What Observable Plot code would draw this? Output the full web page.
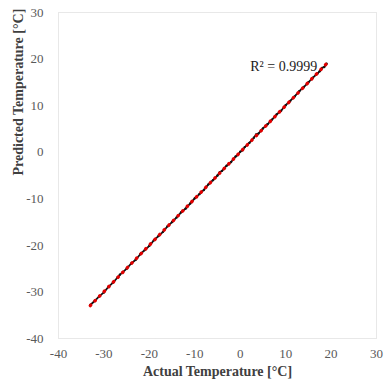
<!DOCTYPE html>
<html>
<head>
<meta charset="utf-8">
<script src="https://cdn.jsdelivr.net/npm/d3@7"></script>
<script src="https://cdn.jsdelivr.net/npm/@observablehq/plot@0.6"></script>
<style>
  html, body { margin: 0; padding: 0; background: #fff; }
  svg text { font-family: 'Liberation Serif', 'Times New Roman', serif; }
</style>
</head>
<body>
<div id="chart"></div>
<script>
const actual = [-33, -32, -31, -30, -29, -28, -27, -26.5, -26, -25, -24, -23, -22, -21, -20, -19, -18, -17, -16, -15, -14, -13, -12, -11, -10, -9, -8, -7, -6, -5, -4.5, -4, -3, -2, -1, -0.5, 0, 0.5, 1, 2, 3, 3.5, 4, 5, 6, 7, 8, 9, 10, 11, 12, 13, 14, 15, 16, 17, 17.5, 18, 18.5, 19];
const predicted = [-32.8, -31.9, -30.9, -30.1, -28.9, -28.0, -26.9, -26.3, -25.9, -25.0, -23.9, -23.1, -21.9, -21.0, -20.1, -18.9, -18.0, -17.1, -15.9, -15.0, -14.0, -12.9, -12.1, -11.0, -9.9, -9.0, -8.1, -6.9, -6.0, -5.0, -4.3, -4.0, -2.9, -2.1, -0.9, -0.6, 0.1, 0.4, 1.1, 2.0, 3.1, 3.8, 4.0, 5.1, 6.0, 7.0, 8.1, 8.9, 10.1, 11.0, 12.0, 13.1, 14.0, 15.0, 16.0, 16.9, 17.4, 18.1, 18.3, 19.0];
const xTicks = [-40, -30, -20, -10, 0, 10, 20, 30];
const yTicks = [-40, -30, -20, -10, 0, 10, 20, 30];
const xTitle = "Actual Temperature [°C]";
const yTitle = "Predicted Temperature [°C]";
const r2Label = "R² = 0.9999";
const r2Pos = {x: 2.2, y: 18.5};

const data = actual.map((a, i) => ({actual: a, predicted: predicted[i]}));

const serif = "'Liberation Serif', 'Times New Roman', serif";
const fmt = d => String(d);

const chart = Plot.plot({
  width: 386,
  height: 387,
  marginLeft: 58,
  marginRight: 10,
  marginTop: 12,
  marginBottom: 49,
  style: {fontFamily: serif, fontSize: "13px", color: "#595959", background: "#fff"},
  x: {domain: [-40, 30], ticks: xTicks, label: null},
  y: {domain: [-40, 30], ticks: yTicks, label: null},
  marks: [
    Plot.frame({stroke: "#d0d0d0", strokeDasharray: "1,1"}),
    Plot.axisX({ticks: xTicks, tickFormat: fmt, tickSize: 0, tickPadding: 10, label: null, fill: "#595959", fontFamily: serif, fontSize: 13}),
    Plot.axisY({ticks: yTicks, tickFormat: fmt, tickSize: 0, tickPadding: 15, label: null, fill: "#595959", fontFamily: serif, fontSize: 13}),
    Plot.line(data, {x: "actual", y: "predicted", stroke: "#111", strokeWidth: 1.8}),
    Plot.dot(data, {x: "actual", y: "predicted", r: 1.2, fill: "#111"}),
    Plot.linearRegressionY(data, {x: "actual", y: "predicted", ci: 0, stroke: "#e00000", strokeWidth: 3.4, strokeDasharray: "0.6,6", strokeLinecap: "round"}),
    Plot.text([r2Label], {x: r2Pos.x, y: r2Pos.y, text: d => d, textAnchor: "start", fontSize: 14, fill: "#1a1a1a", fontFamily: serif}),
    Plot.text([xTitle], {frameAnchor: "bottom", dy: 37, text: d => d, fontSize: 14, fontWeight: "bold", fill: "#404040", fontFamily: serif}),
    Plot.text([yTitle], {frameAnchor: "left", dx: -40, rotate: -90, text: d => d, fontSize: 14, fontWeight: "bold", fill: "#404040", fontFamily: serif})
  ]
});
document.getElementById("chart").appendChild(chart);
</script>
</body>
</html>
